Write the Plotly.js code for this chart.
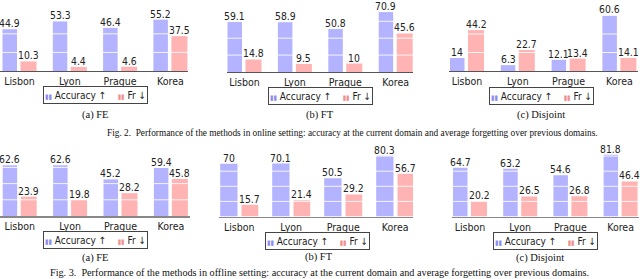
<!DOCTYPE html>
<html><head><meta charset="utf-8">
<script src="https://cdn.plot.ly/plotly-3.0.1.min.js"></script>
<style>html,body{margin:0;padding:0;background:#fff}#chart{width:640px;height:279px}</style>
</head><body><div id="chart"></div>
<script>
// ---- data ----
const categories = ['Lisbon', 'Lyon', 'Prague', 'Korea'];
const onlineFE_acc = [44.9, 53.3, 46.4, 55.2];
const onlineFE_fr = [10.3, 4.4, 4.6, 37.5];
const onlineFT_acc = [59.1, 58.9, 50.8, 70.9];
const onlineFT_fr = [14.8, 9.5, 10, 45.6];
const onlineDis_acc = [14, 6.3, 12.1, 60.6];
const onlineDis_fr = [44.2, 22.7, 13.4, 14.1];
const offlineFE_acc = [62.6, 62.6, 45.2, 59.4];
const offlineFE_fr = [23.9, 19.8, 28.2, 45.8];
const offlineFT_acc = [70, 70.1, 50.5, 80.3];
const offlineFT_fr = [15.7, 21.4, 29.2, 56.7];
const offlineDis_acc = [64.7, 63.2, 54.6, 81.8];
const offlineDis_fr = [20.2, 26.5, 26.8, 46.4];
const seriesNames = ['Accuracy ↑', 'Fr ↓'];
const panelCaptions = ['(a) FE', '(b) FT', '(c) Disjoint', '(a) FE', '(b) FT', '(c) Disjoint'];
const figCaptions = [
  'Fig. 2.  Performance of the methods in online setting: accuracy at the current domain and average forgetting over previous domains.',
  'Fig. 3.  Performance of the methods in offline setting: accuracy at the current domain and average forgetting over previous domains.'
];
const gridValues = [20, 40, 60, 80];

// ---- layout/style ----
const W = 640, H = 279;
const BLUE = '#b3b3ff', PINK = '#ffb3b3';
const SANS = '"Liberation Sans Narrow", "DejaVu Sans Condensed", "Arial Narrow", sans-serif';
const SERIF = '"Liberation Serif", "Times New Roman", serif';
const panels = [
  {acc: onlineFE_acc, fr: onlineFE_fr, c0: 19.5, s: 50.3, L: 0, R: 188, base: 71, top: 0, scale: 0.93, bl: [-17, -2.5], pk: [1, 17], cap: [95, 115], leg: [95, 95.5], axc: '#555', axw: 1},
  {acc: onlineFT_acc, fr: onlineFT_fr, c0: 244.5, s: 50.4, L: 227, R: 413, base: 72, top: 0, scale: 0.845, bl: [-17, -2.5], pk: [1, 17], cap: [319.5, 115], leg: [320, 96], axc: '#555', axw: 1},
  {acc: onlineDis_acc, fr: onlineDis_fr, c0: 467, s: 50.8, L: 449, R: 638, base: 71, top: 0, scale: 0.925, bl: [-17, -2.5], pk: [1, 17], cap: [541, 115], leg: [541, 96], axc: '#555', axw: 1},
  {acc: offlineFE_acc, fr: offlineFE_fr, c0: 19.7, s: 50.4, L: 0, R: 190, base: 216, top: 146, scale: 0.81, bl: [-17, -2.5], pk: [1, 17], cap: [95.5, 258], leg: [95, 240], axc: '#888', axw: 1.5},
  {acc: offlineFT_acc, fr: offlineFT_fr, c0: 239.2, s: 52, L: 219, R: 413, base: 216.5, top: 146, scale: 0.755, bl: [-19, -1.7], pk: [2.3, 19], cap: [319, 257], leg: [317, 241], axc: '#888', axw: 1.5},
  {acc: offlineDis_acc, fr: offlineDis_fr, c0: 470, s: 50.2, L: 452, R: 639, base: 216.5, top: 146, scale: 0.755, bl: [-17, -2.5], pk: [1, 17], cap: [540, 257.5], leg: [545, 240.5], axc: '#888', axw: 1.5}
];

const data = [], shapes = [], annotations = [];
const layout = {
  width: W, height: H, margin: {l: 0, r: 0, t: 0, b: 0},
  paper_bgcolor: '#fff', plot_bgcolor: 'rgba(0,0,0,0)',
  barmode: 'overlay', showlegend: false,
  font: {family: SANS, size: 10.5, color: '#222'}
};

const icon = c => '<span style="color:' + c + ';font-size:7px">▮▮</span>';

panels.forEach((p, i) => {
  const n = i === 0 ? '' : String(i + 1);
  const xa = 'x' + n, ya = 'y' + n;
  layout['xaxis' + n] = {
    domain: [p.L / W, p.R / W], range: [(p.L - p.c0) / p.s, (p.R - p.c0) / p.s],
    type: 'category', categoryarray: categories, anchor: ya,
    showgrid: false, zeroline: false, ticks: '', showline: true, linecolor: p.axc, linewidth: p.axw,
    tickfont: {family: SANS, size: 10.5, color: '#222'}, fixedrange: true
  };
  layout['yaxis' + n] = {
    domain: [(H - p.base) / H, (H - p.top) / H], range: [0, (p.base - p.top) / p.scale],
    anchor: xa, showgrid: false, zeroline: false, showticklabels: false, showline: false, fixedrange: true
  };
  const mk = (vals, col, off, name) => ({
    type: 'bar', x: categories, y: vals, name: name, xaxis: xa, yaxis: ya,
    offset: off[0] / p.s, width: (off[1] - off[0]) / p.s,
    marker: {color: col, line: {width: 0}}, hoverinfo: 'skip'
  });
  data.push(mk(p.acc, BLUE, p.bl, seriesNames[0]));
  data.push(mk(p.fr, PINK, p.pk, seriesNames[1]));
  // white grid lines drawn above bars
  gridValues.forEach(g => shapes.push({type: 'line', layer: 'above', xref: xa + ' domain', yref: ya,
    x0: 0, x1: 1, y0: g, y1: g, line: {color: 'rgba(255,255,255,0.85)', width: 1}}));
  // value labels
  [[p.acc, p.bl], [p.fr, p.pk]].forEach(([vals, off]) => {
    vals.forEach((v, k) => annotations.push({
      xref: xa, yref: ya, x: categories[k], y: v, text: String(v), showarrow: false,
      xanchor: 'center', yanchor: 'bottom', xshift: (off[0] + off[1]) / 2, yshift: -1, borderpad: 0,
      font: {family: SANS, size: 10.3, color: '#222'}
    }));
  });
  // legend box
  annotations.push({
    xref: 'paper', yref: 'paper', x: p.leg[0] / W, y: (H - p.leg[1]) / H, xanchor: 'center', yanchor: 'middle',
    showarrow: false, width: 101, height: 14, borderpad: 1, borderwidth: 1, bordercolor: '#444', bgcolor: '#fff',
    text: icon('#8c8cf0') + ' ' + seriesNames[0] + '\u00a0\u00a0\u00a0 ' + icon('#f09090') + ' ' + seriesNames[1],
    font: {family: SANS, size: 10, color: '#222'}
  });
  // panel caption
  annotations.push({
    xref: 'paper', yref: 'paper', x: p.cap[0] / W, y: (H - p.cap[1]) / H, xanchor: 'center', yanchor: 'middle',
    showarrow: false, text: panelCaptions[i], font: {family: SERIF, size: 10.5, color: '#111'}
  });
});
// figure captions
[[352, 132.5, 9.3], [319.5, 272.5, 10.2]].forEach(([cx, cy, fs], j) => annotations.push({
  xref: 'paper', yref: 'paper', x: cx / W, y: (H - cy) / H, xanchor: 'center', yanchor: 'middle',
  showarrow: false, borderpad: 0, text: figCaptions[j], font: {family: SERIF, size: fs, color: '#111'}
}));
layout.shapes = shapes;
layout.annotations = annotations;
Plotly.newPlot('chart', data, layout, {staticPlot: true, displayModeBar: false});
</script></body></html>
